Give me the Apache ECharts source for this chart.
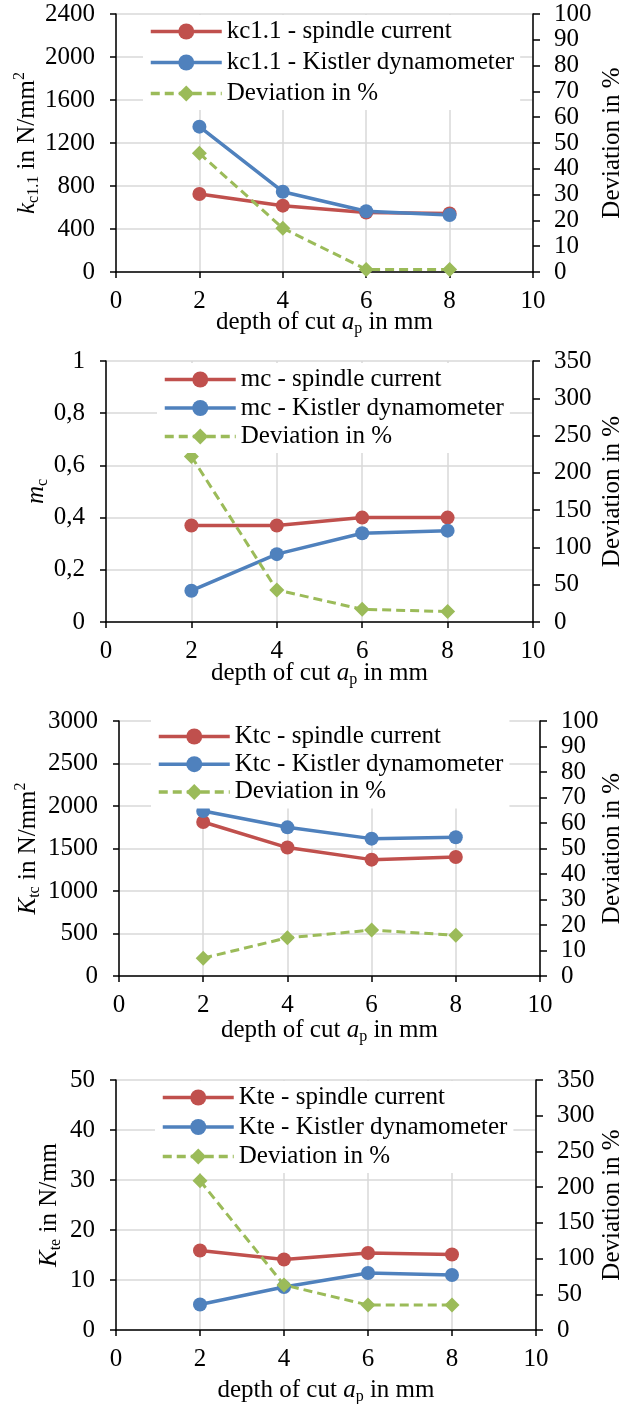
<!DOCTYPE html>
<html>
<head>
<meta charset="utf-8">
<script src="https://cdn.jsdelivr.net/npm/echarts@6/dist/echarts.min.js"></script>
<style>
html, body { margin: 0; padding: 0; background: #fff; }
.panel { position: absolute; left: 0; width: 634px; }
</style>
</head>
<body>
<div id="c1" class="panel" style="top:0;height:345px"></div>
<div id="c2" class="panel" style="top:345px;height:355px"></div>
<div id="c3" class="panel" style="top:700px;height:350px"></div>
<div id="c4" class="panel" style="top:1050px;height:354px"></div>
<script>
// depth of cut a_p in mm
const depthOfCut = [2, 4, 6, 8];

// kc1.1 in N/mm^2, deviation in %
const kc11Spindle = [726, 617, 553, 545];
const kc11Kistler = [1352, 747, 565, 530];
const kc11Deviation = [46, 17, 1, 1];

// mc
const mcSpindle = [0.37, 0.37, 0.40, 0.40];
const mcKistler = [0.12, 0.26, 0.34, 0.35];
const mcDeviation = [222, 43, 17, 14];

// Ktc in N/mm^2
const ktcSpindle = [1812, 1511, 1369, 1400];
const ktcKistler = [1941, 1749, 1616, 1632];
const ktcDeviation = [7, 15, 18, 16];

// Kte in N/mm
const kteSpindle = [15.9, 14.1, 15.4, 15.1];
const kteKistler = [5.1, 8.6, 11.4, 11.0];
const kteDeviation = [209, 63, 35, 35];

const FONT = 'Liberation Serif';
const FS = 25;
const RED = '#C0504D';
const BLUE = '#4F81BD';
const GREEN = '#9BBB59';
const GRID_COLOR = '#d9d9d9';

const rich = {
    i: { fontStyle: 'italic', fontSize: FS, fontFamily: FONT, color: '#000', lineHeight: 30 },
    sub: { fontSize: 16, fontFamily: FONT, color: '#000', verticalAlign: 'bottom', lineHeight: 16 },
    sup: { fontSize: 16, fontFamily: FONT, color: '#000', verticalAlign: 'top', lineHeight: 16 }
};
const nameStyle = { fontSize: FS, fontFamily: FONT, color: '#000', lineHeight: 30, rich: rich };
const labelStyle = { fontSize: FS, fontFamily: FONT, color: '#000' };

const plainFormat = v => String(v);
const commaFormat = v => String(+v.toFixed(1)).replace('.', ',');

function pairs(values) {
    return depthOfCut.map((x, i) => [x, values[i]]);
}

function buildOption(cfg) {
    return {
        animation: false,
        backgroundColor: '#fff',
        grid: Object.assign({ outerBoundsMode: 'none', containLabel: false }, cfg.grid),
        legend: {
            orient: 'vertical',
            left: cfg.legend.left,
            top: cfg.legend.top,
            itemGap: cfg.legend.itemGap,
            itemWidth: 71,
            itemHeight: 20,
            padding: [4, 6],
            backgroundColor: '#fff',
            selectedMode: false,
            lineStyle: { width: 3.5 },
            textStyle: { fontSize: FS, fontFamily: FONT, color: '#000', lineHeight: 24 },
            data: cfg.names
        },
        xAxis: {
            type: 'value',
            min: 0,
            max: 10,
            interval: 2,
            name: 'depth of cut {i|a}{sub|p} in mm',
            nameLocation: 'middle',
            nameGap: cfg.xNameGap,
            nameMoveOverlap: false,
            nameTextStyle: nameStyle,
            axisLine: { show: true, onZero: false, lineStyle: { color: '#000', width: 1.5 } },
            axisTick: { show: true, length: 6, lineStyle: { color: '#000', width: 1.5 } },
            axisLabel: Object.assign({ margin: 17, formatter: plainFormat }, labelStyle),
            splitLine: { show: true, lineStyle: { color: GRID_COLOR, width: 1.5 } }
        },
        yAxis: [
            {
                type: 'value',
                min: 0,
                max: cfg.leftMax,
                interval: cfg.leftInterval,
                name: cfg.leftName,
                nameLocation: 'middle',
                nameRotate: 90,
                nameGap: cfg.leftNameGap,
                nameMoveOverlap: false,
                nameTextStyle: nameStyle,
                axisLine: { show: true, lineStyle: { color: '#000', width: 1.5 } },
                axisTick: { show: true, length: 6, lineStyle: { color: '#000', width: 1.5 } },
                axisLabel: Object.assign({ margin: 21, formatter: cfg.leftFormatter || plainFormat }, labelStyle),
                splitLine: { show: true, lineStyle: { color: GRID_COLOR, width: 1.5 } }
            },
            {
                type: 'value',
                position: 'right',
                min: 0,
                max: cfg.rightMax,
                interval: cfg.rightInterval,
                name: 'Deviation in %',
                nameLocation: 'middle',
                nameRotate: 90,
                nameGap: cfg.rightNameGap,
                nameMoveOverlap: false,
                nameTextStyle: nameStyle,
                axisLine: { show: true, lineStyle: { color: '#000', width: 1.5 } },
                axisTick: { show: true, length: 7, lineStyle: { color: '#000', width: 1.5 } },
                axisLabel: Object.assign({ margin: 21, formatter: plainFormat }, labelStyle),
                splitLine: { show: false }
            }
        ],
        series: [
            {
                name: cfg.names[0],
                type: 'line',
                yAxisIndex: 0,
                symbol: 'circle',
                symbolSize: 14,
                color: RED,
                lineStyle: { color: RED, width: 3.5 },
                itemStyle: { color: RED },
                data: pairs(cfg.spindle)
            },
            {
                name: cfg.names[1],
                type: 'line',
                yAxisIndex: 0,
                symbol: 'circle',
                symbolSize: 14,
                color: BLUE,
                lineStyle: { color: BLUE, width: 3.5 },
                itemStyle: { color: BLUE },
                data: pairs(cfg.kistler)
            },
            {
                name: cfg.names[2],
                type: 'line',
                yAxisIndex: 1,
                symbol: 'diamond',
                symbolSize: 15,
                color: GREEN,
                lineStyle: { color: GREEN, width: 3, type: [9, 5] },
                itemStyle: { color: GREEN },
                data: pairs(cfg.deviation)
            }
        ]
    };
}

const configs = [
    {
        el: 'c1',
        grid: { left: 116, top: 14, width: 417, height: 258 },
        legend: { left: 143, top: 15, itemGap: 6 },
        names: ['kc1.1 - spindle current', 'kc1.1 - Kistler dynamometer', 'Deviation in %'],
        spindle: kc11Spindle, kistler: kc11Kistler, deviation: kc11Deviation,
        leftMax: 2400, leftInterval: 400, rightMax: 100, rightInterval: 10,
        leftName: '{i|k}{sub|c1.1} in N/mm{sup|2}',
        leftNameGap: 74, rightNameGap: 64, xNameGap: 35
    },
    {
        el: 'c2',
        grid: { left: 106, top: 16, width: 427, height: 261 },
        legend: { left: 157, top: 18, itemGap: 3.5 },
        names: ['mc - spindle current', 'mc - Kistler dynamometer', 'Deviation in %'],
        spindle: mcSpindle, kistler: mcKistler, deviation: mcDeviation,
        leftMax: 1, leftInterval: 0.2, rightMax: 350, rightInterval: 50,
        leftFormatter: commaFormat,
        leftName: '{i|m}{sub|c}',
        leftNameGap: 55, rightNameGap: 64, xNameGap: 36
    },
    {
        el: 'c3',
        grid: { left: 119, top: 21, width: 421, height: 255 },
        legend: { left: 151, top: 20, itemGap: 2.7 },
        names: ['Ktc - spindle current', 'Ktc - Kistler dynamometer', 'Deviation in %'],
        spindle: ktcSpindle, kistler: ktcKistler, deviation: ktcDeviation,
        leftMax: 3000, leftInterval: 500, rightMax: 100, rightInterval: 10,
        leftName: '{i|K}{sub|tc} in N/mm{sup|2}',
        leftNameGap: 76, rightNameGap: 57, xNameGap: 39
    },
    {
        el: 'c4',
        grid: { left: 116, top: 30, width: 420, height: 250 },
        legend: { left: 155, top: 31, itemGap: 4.5 },
        names: ['Kte - spindle current', 'Kte - Kistler dynamometer', 'Deviation in %'],
        spindle: kteSpindle, kistler: kteKistler, deviation: kteDeviation,
        leftMax: 50, leftInterval: 10, rightMax: 350, rightInterval: 50,
        leftName: '{i|K}{sub|te} in N/mm',
        leftNameGap: 52, rightNameGap: 61, xNameGap: 45
    }
];

configs.forEach(cfg => {
    const chart = echarts.init(document.getElementById(cfg.el));
    chart.setOption(buildOption(cfg));
});
</script>
</body>
</html>
